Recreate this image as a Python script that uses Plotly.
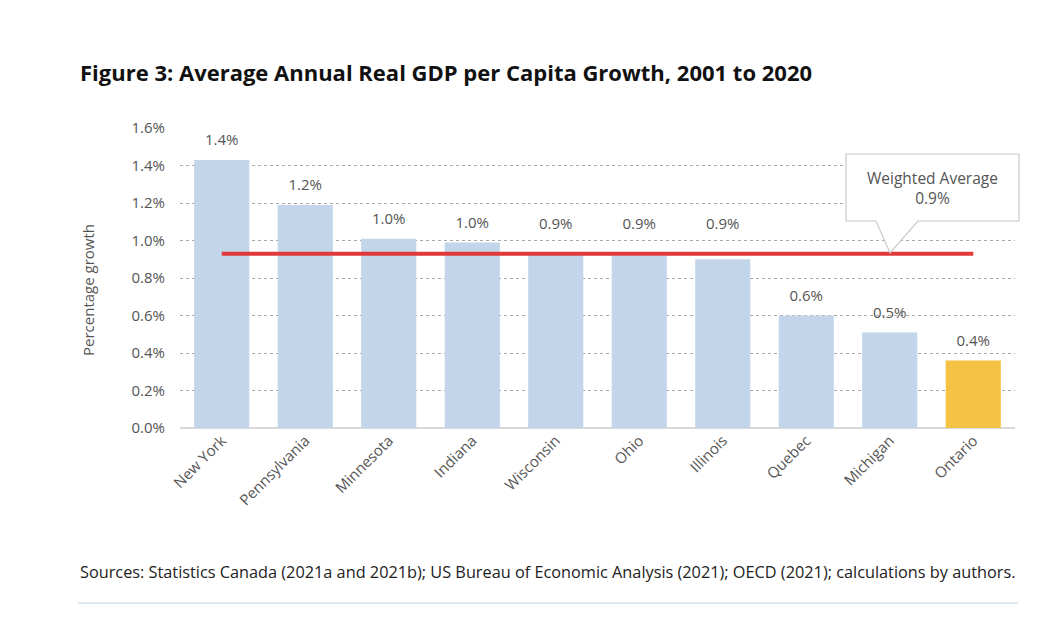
import plotly.graph_objects as go

# Data
regions = ["New York", "Pennsylvania", "Minnesota", "Indiana", "Wisconsin",
           "Ohio", "Illinois", "Quebec", "Michigan", "Ontario"]
growth = [1.43, 1.19, 1.01, 0.99, 0.93, 0.92, 0.90, 0.60, 0.51, 0.36]
weighted_avg = 0.93
y_ticks = [0.0, 0.2, 0.4, 0.6, 0.8, 1.0, 1.2, 1.4, 1.6]

# page body has an 8px margin, so the figure is drawn 8px in from the corner
OFF = 8
W, H = 1056 - OFF, 642 - OFF
ML, MR, MT, MB = 180 - OFF, 41, 128 - OFF, 214
PW, PH = W - ML - MR, H - MT - MB

BLUE = "#c2d5ea"
GOLD = "#f5c343"
RED = "#e0393a"
GREY = "#555555"
FONT = "Open Sans, Arial, sans-serif"


def px(x, y):
    # screen pixel position -> paper coordinates
    return (x - OFF - ML) / PW, (H - MB - (y - OFF)) / PH


colors = [GOLD if r == "Ontario" else BLUE for r in regions]

fig = go.Figure()

fig.add_trace(go.Bar(
    x=regions, y=growth,
    marker=dict(color=colors, line=dict(width=0)),
    hoverinfo="skip",
))

# weighted average line
fig.add_trace(go.Scatter(
    x=[regions[0], regions[-1]], y=[weighted_avg, weighted_avg],
    mode="lines", line=dict(color=RED, width=4),
    hoverinfo="skip",
))

# value labels, lifted above the average line where the bar touches it
near = [abs(v - weighted_avg) < 0.05 for v in growth]
fig.add_trace(go.Scatter(
    x=regions,
    y=[max(v, weighted_avg) if n else v for v, n in zip(growth, near)],
    mode="markers+text",
    marker=dict(size=[32 if n else 16 for n in near], opacity=0),
    text=[f"{v:.1f}%" for v in growth],
    textposition="top center",
    textfont=dict(size=15, color=GREY, family=FONT),
    hoverinfo="skip",
))

# callout box for the weighted average
x0, y0 = px(846, 154)
x1, y1 = px(1019, 221)
bl, _ = px(876, 221)
br, _ = px(918, 221)
tx, ty = px(890, 253)
path = (f"M {x0} {y1} L {bl} {y1} L {tx} {ty} L {br} {y1} L {x1} {y1} "
        f"L {x1} {y0} L {x0} {y0} Z")
fig.add_shape(type="path", path=path, xref="paper", yref="paper",
              line=dict(color="#c8c8c8", width=1.2), fillcolor="white",
              layer="above")
cx, cy = px(932, 188)
fig.add_annotation(x=cx, y=cy, xref="paper", yref="paper", showarrow=False,
                   xanchor="center", yanchor="middle",
                   text="Weighted Average<br>0.9%",
                   font=dict(size=15.5, color=GREY, family=FONT))

# y axis title
ax, ay = px(88, 290)
fig.add_annotation(x=ax, y=ay, xref="paper", yref="paper", showarrow=False,
                   xanchor="center", yanchor="middle", textangle=-90,
                   text="Percentage growth",
                   font=dict(size=15, color=GREY, family=FONT))

# title and source
tx0, ty0 = px(78, 72)
fig.add_annotation(x=tx0, y=ty0, xref="paper", yref="paper", showarrow=False,
                   xanchor="left", yanchor="middle",
                   text="<b>Figure 3: Average Annual Real GDP per Capita Growth, 2001 to 2020</b>",
                   font=dict(size=22, color="#111111", family=FONT))
sx0, sy0 = px(78, 572)
fig.add_annotation(x=sx0, y=sy0, xref="paper", yref="paper", showarrow=False,
                   xanchor="left", yanchor="middle",
                   text="Sources: Statistics Canada (2021a and 2021b); US Bureau of Economic Analysis (2021); OECD (2021); calculations by authors.",
                   font=dict(size=16.3, color="#222222", family=FONT))
lx0, ly = px(78, 603)
lx1, _ = px(1018, 603)
fig.add_shape(type="line", x0=lx0, x1=lx1, y0=ly, y1=ly, xref="paper", yref="paper",
              line=dict(color="#dde8f2", width=2))

fig.update_layout(
    width=W, height=H,
    margin=dict(l=ML, r=MR, t=MT, b=MB),
    plot_bgcolor="white", paper_bgcolor="white",
    showlegend=False,
    bargap=0.34,
    font=dict(family=FONT, color=GREY, size=15),
)
fig.update_xaxes(
    range=[-0.5, len(regions) - 0.5],
    tickangle=-45, tickfont=dict(size=15, color=GREY),
    showline=False, ticks="",
)
fig.update_yaxes(
    range=[0, 1.6], tickvals=y_ticks,
    ticktext=[f"{t:.1f}%" for t in y_ticks],
    tickfont=dict(size=15, color=GREY),
    showgrid=True, gridcolor="#a8a8a8", griddash="dot", gridwidth=1,
    zeroline=True, zerolinecolor="#d9d9d9", zerolinewidth=1.5,
    ticks="", ticklabelstandoff=14,
)

fig.write_html("out.html")
